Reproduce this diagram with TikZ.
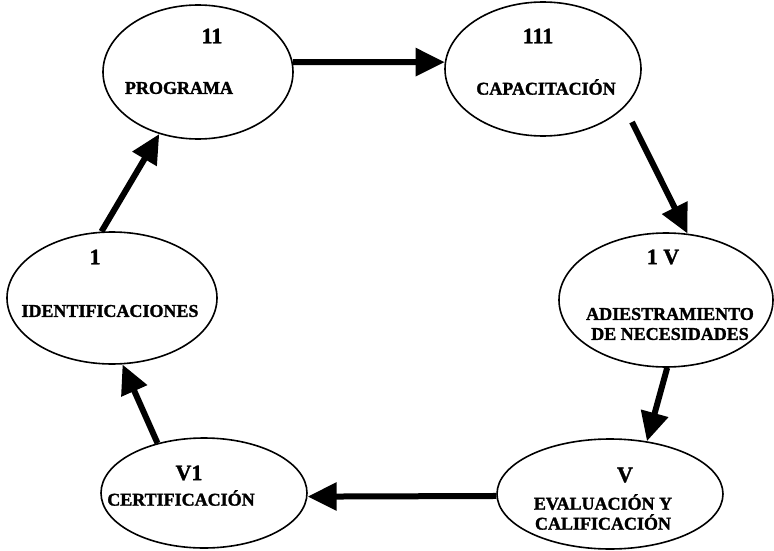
\documentclass[tikz,border=0pt]{standalone}
\usepackage{fontspec}
\setmainfont{Liberation Serif}[BoldFeatures={FakeBold=1.5}]
\usetikzlibrary{shapes.geometric,arrows.meta}

\tikzset{
  stage/.style={draw=black, line width=1.6pt, ellipse, inner sep=0pt},
  numlabel/.style={inner sep=0pt, font=\fontsize{22}{24}\selectfont\bfseries},
  namelabel/.style={inner sep=0pt, align=center, font=\fontsize{18}{20}\selectfont\bfseries},
  flow/.style={line width=6pt, -{Triangle[length=29pt,width=27pt]}}
}

\begin{document}
\begin{tikzpicture}[x=1pt, y=-1pt]
  \useasboundingbox (0,0) rectangle (774,551);
  \fill[white] (0,0) rectangle (774,551);

  % the six stages of the cycle
  \node[stage, minimum width=190pt, minimum height=134pt] (e2) at (198,72) {};
  \node[stage, minimum width=196pt, minimum height=134pt] (e3) at (543,69) {};
  \node[stage, minimum width=214pt, minimum height=134pt] (e4) at (666,300) {};
  \node[stage, minimum width=226pt, minimum height=110pt] (e5) at (610,494) {};
  \node[stage, minimum width=206pt, minimum height=110pt] (e6) at (204,493) {};
  \node[stage, minimum width=210pt, minimum height=132pt] (e1) at (112,298) {};

  % stage numbers and names
  \node[numlabel] (n2) at (212,36) {11};
  \node[namelabel] (t2) at (179,88) {PROGRAMA};

  \node[numlabel] (n3) at (538,36) {111};
  \node[namelabel] (t3) at (546,87) {CAPACITACIÓN};

  \node[numlabel] (n4) at (663,257) {1 V};
  \node[namelabel] (t4) at (670,324) {ADIESTRAMIENTO\\DE NECESIDADES};

  \node[numlabel] (n5) at (625,475) {V};
  \node[namelabel] (t5) at (603,512) {EVALUACIÓN Y\\CALIFICACIÓN};

  \node[numlabel] (n6) at (189,473) {V1};
  \node[namelabel] (t6) at (181,498) {CERTIFICACIÓN};

  \node[numlabel] (n1) at (95,257) {1};
  \node[namelabel] (t1) at (110,311) {IDENTIFICACIONES};

  % free starting point of the arrow below CAPACITACIÓN
  \coordinate (s34) at (632,122);

  % arrows between the stages
  \draw[flow] (e2.6) -- (e3.176);
  \draw[flow] (s34) -- (e4.72);
  \draw[flow] (e4.271) -- (e5.55);
  \draw[flow] (e5.181) -- (e6.358);
  \draw[flow] (e6.133) -- (e1.279);
  \draw[flow] (e1.99) -- (e2.238);
\end{tikzpicture}
\end{document}
